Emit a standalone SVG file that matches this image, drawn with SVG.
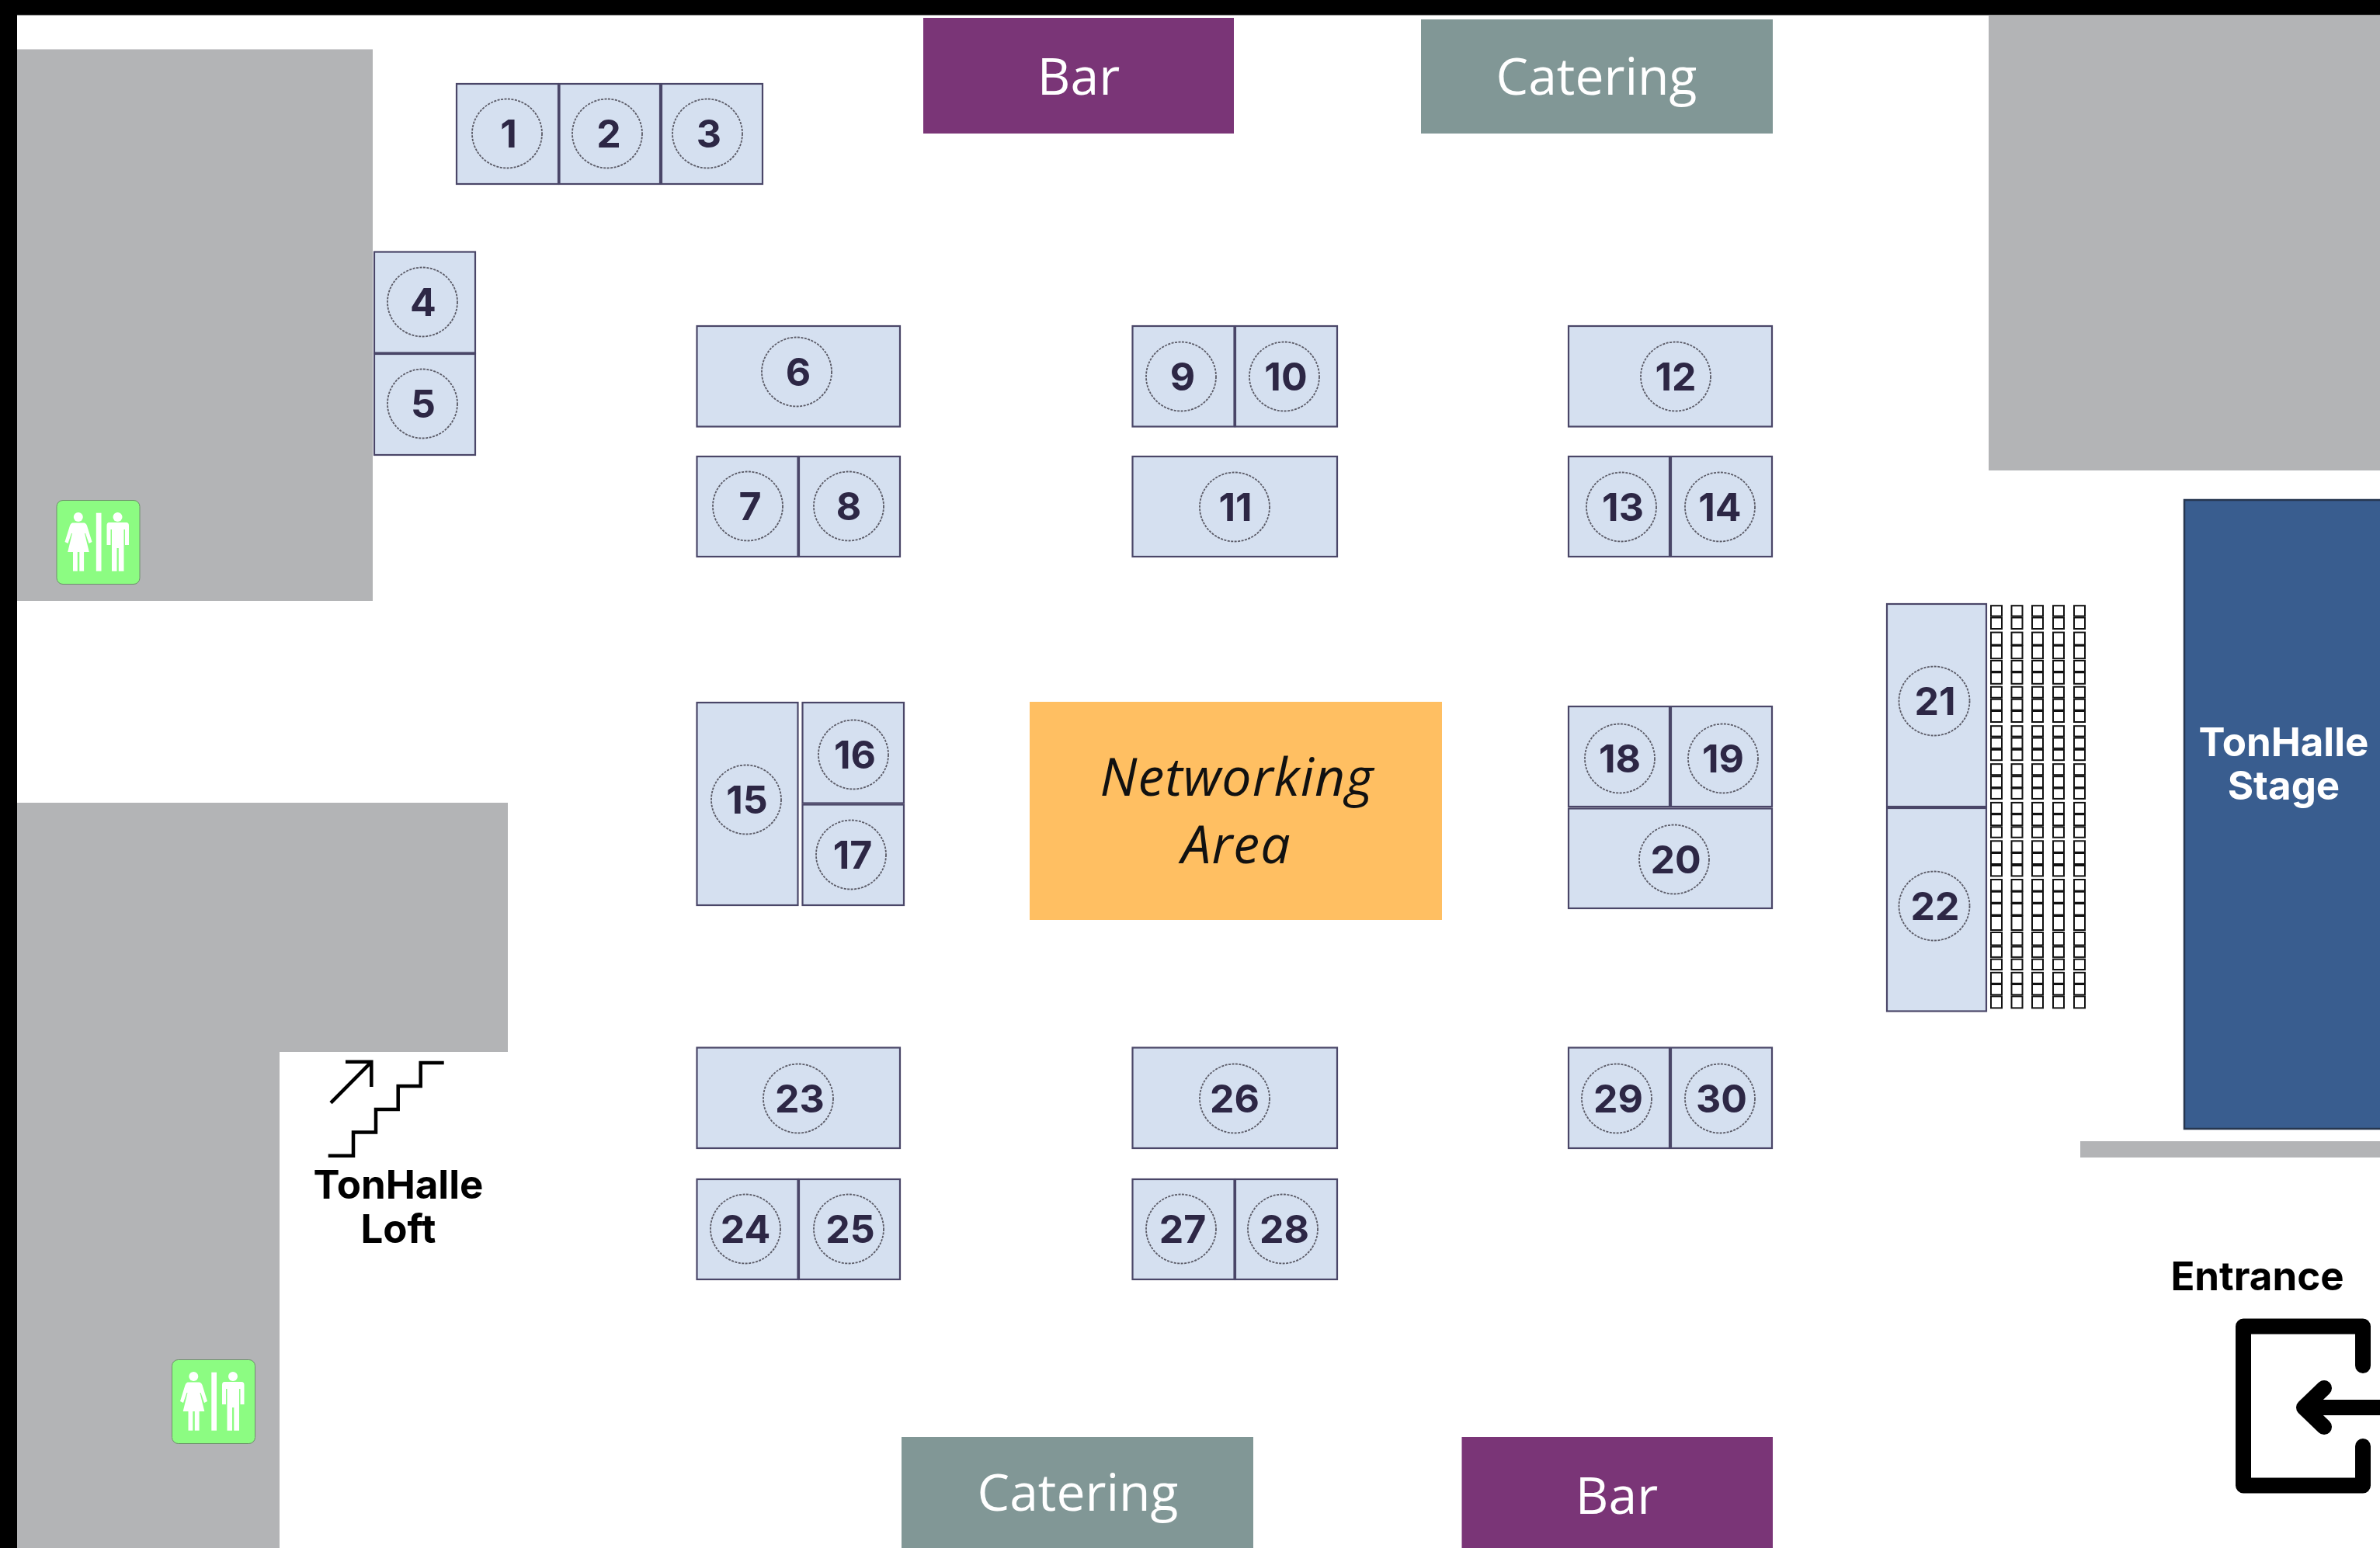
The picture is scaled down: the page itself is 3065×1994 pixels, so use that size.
<svg xmlns="http://www.w3.org/2000/svg" xmlns:xlink="http://www.w3.org/1999/xlink" width="3065" height="1994" viewBox="0 0 3065 1994">
<style>
.w{fill:#b3b4b6}
.t{fill:#d5e0f0;stroke:#4a4668;stroke-width:2.2}
.c{fill:none;stroke:#5a5a66;stroke-width:1.8;stroke-dasharray:3 1.5}
.n{font-family:Inter,"Liberation Sans",sans-serif;font-weight:700;font-size:50px;fill:#2d2745;text-anchor:middle}
.l{font-family:"Open Sans","Liberation Sans",sans-serif;font-size:66px;fill:#fff;text-anchor:middle}
.b{font-family:Inter,"Liberation Sans",sans-serif;font-weight:700;font-size:51px;text-anchor:middle}
.ch{fill:#fff;stroke:#111;stroke-width:2}
.ln{fill:none;stroke:#000;stroke-linecap:butt}
</style>
<defs>
<g id="wc">
<rect x="0.5" y="0.5" width="107" height="108" rx="8" fill="#8cfc82" stroke="#6d8f6a" stroke-width="1"/>
<g fill="#fff">
<circle cx="28.3" cy="22" r="6"/>
<path d="M21,29.5H35.5Q38,29.5 39.5,33L46,54L42,56L37.5,43H36.5L42.3,67H14.7L20.5,43H19.5L15,56L11,54L17.5,33Q19,29.5 21,29.5Z"/>
<rect x="21.5" y="67" width="5.8" height="24.7"/><rect x="29.8" y="67" width="5.8" height="24.7"/>
<rect x="51.3" y="16.7" width="6.7" height="75"/>
<circle cx="79" cy="22" r="6"/>
<path d="M68,29H90Q93.5,29 93.5,33V58H88.5V38H87V91.7H80.3V62H78V91.7H71.5V38H70V58H65V33Q65,29 68,29Z"/>
</g>
</g>
<g id="col">
<rect class="ch" x="0" y="780.2" width="14" height="13.4"/><rect class="ch" x="0" y="795.5" width="14" height="14.5"/><rect class="ch" x="0" y="814.6" width="14" height="16"/><rect class="ch" x="0" y="831.8" width="14" height="16.5"/><rect class="ch" x="0" y="851" width="14" height="14"/><rect class="ch" x="0" y="866.3" width="14" height="14.5"/><rect class="ch" x="0" y="884.7" width="14" height="14"/><rect class="ch" x="0" y="900.7" width="14" height="14"/><rect class="ch" x="0" y="916" width="14" height="14"/><rect class="ch" x="0" y="935.2" width="14" height="13.4"/><rect class="ch" x="0" y="950.5" width="14" height="13.4"/><rect class="ch" x="0" y="965.8" width="14" height="13.4"/><rect class="ch" x="0" y="984.2" width="14" height="14"/><rect class="ch" x="0" y="1000.2" width="14" height="14"/><rect class="ch" x="0" y="1015.5" width="14" height="13.4"/><rect class="ch" x="0" y="1033.9" width="14" height="14"/><rect class="ch" x="0" y="1049.2" width="14" height="14"/><rect class="ch" x="0" y="1065.3" width="14" height="13.4"/><rect class="ch" x="0" y="1083.3" width="14" height="14.5"/><rect class="ch" x="0" y="1099" width="14" height="14"/><rect class="ch" x="0" y="1115" width="14" height="13.4"/><rect class="ch" x="0" y="1133" width="14" height="14.5"/><rect class="ch" x="0" y="1148.7" width="14" height="14"/><rect class="ch" x="0" y="1164" width="14" height="14.5"/><rect class="ch" x="0" y="1180" width="14" height="18"/><rect class="ch" x="0" y="1201" width="14" height="16.5"/><rect class="ch" x="0" y="1219.5" width="14" height="13.4"/><rect class="ch" x="0" y="1235.6" width="14" height="13.4"/><rect class="ch" x="0" y="1252.8" width="14" height="14"/><rect class="ch" x="0" y="1268" width="14" height="13.4"/><rect class="ch" x="0" y="1283.4" width="14" height="15"/>
</g>
</defs>
<rect width="3065" height="1994" fill="#fff"/>
<rect id="frame-top" x="0" y="0" width="3065" height="19.5" fill="#000"/>
<rect id="frame-left" x="0" y="0" width="22" height="1994" fill="#000"/>
<g id="walls">
<rect class="w" x="22" y="63.5" width="458" height="710.5"/>
<path class="w" d="M22,1034H654V1355H360V1994H22Z"/>
<rect class="w" x="2561" y="19.5" width="504" height="586.5"/>
<rect class="w" x="2679" y="1470" width="386" height="21"/>
</g>
<g id="stage"><rect x="2813" y="644" width="254" height="810" fill="#395d8f" stroke="#26364f" stroke-width="2.5"/>
<text class="b" fill="#fff" x="2941" y="974">TonHalle</text><text class="b" fill="#fff" x="2941" y="1030">Stage</text></g>
<g id="bar-top"><rect x="1189" y="23" width="400" height="149" fill="#7a3577"/><text class="l" x="1389" y="122">Bar</text></g>
<g id="catering-top"><rect x="1830" y="25" width="453" height="147" fill="#819796"/><text class="l" x="2056" y="122">Catering</text></g>
<g id="catering-bottom"><rect x="1161" y="1851" width="453" height="143" fill="#819796"/><text class="l" x="1388" y="1946">Catering</text></g>
<g id="bar-bottom"><rect x="1882.5" y="1851" width="400.5" height="143" fill="#7a3577"/><text class="l" x="2082" y="1950">Bar</text></g>
<g id="networking"><rect x="1326" y="904" width="531" height="281" fill="#ffbf62"/>
<text font-family="'Open Sans','Liberation Sans',sans-serif" font-style="italic" font-size="68" letter-spacing="1" fill="#111" text-anchor="middle" x="1593" y="1025">Networking</text>
<text font-family="'Open Sans','Liberation Sans',sans-serif" font-style="italic" font-size="68" letter-spacing="1" fill="#111" text-anchor="middle" x="1592" y="1112">Area</text></g>
<g id="wc-1"><use xlink:href="#wc" href="#wc" x="72.5" y="644"/></g>
<g id="wc-2"><use xlink:href="#wc" href="#wc" x="221" y="1751"/></g>
<g id="stairs">
<path class="ln" stroke-width="4.5" d="M422.7,1488.8H455V1458.5H484V1429H512.7V1399H541.7V1369H571.7"/>
<path class="ln" stroke-width="4.5" d="M426,1420.6L478.3,1367.8M445,1367.8H478.3V1400"/>
<text class="b" fill="#000" x="513" y="1544">TonHalle</text><text class="b" fill="#000" x="513" y="1601">Loft</text>
</g>
<g id="entrance">
<text class="b" fill="#000" x="2907" y="1662">Entrance</text>
<path fill="none" stroke="#000" stroke-width="20" stroke-linecap="round" stroke-linejoin="round" d="M3043,1759V1708.5H2889V1913.5H3043V1863"/>
<path fill="none" stroke="#000" stroke-width="20" stroke-linecap="round" stroke-linejoin="round" d="M2993,1788L2967,1813L2993,1838M2967,1813H3075"/>
</g>
<g id="chairs">
<use xlink:href="#col" href="#col" x="2564"/><use xlink:href="#col" href="#col" x="2590.5"/><use xlink:href="#col" href="#col" x="2617"/><use xlink:href="#col" href="#col" x="2644"/><use xlink:href="#col" href="#col" x="2671"/>
</g>
<g id="table-1"><rect class="t" x="588" y="108" width="131" height="129"/><ellipse class="c" cx="653" cy="172" rx="45" ry="44.5"/><text class="n" x="655" y="190">1</text></g>
<g id="table-2"><rect class="t" x="720.5" y="108" width="129.5" height="129"/><ellipse class="c" cx="782" cy="172" rx="45" ry="44.5"/><text class="n" x="784" y="190">2</text></g>
<g id="table-3"><rect class="t" x="852" y="108" width="130" height="129"/><ellipse class="c" cx="911" cy="172" rx="45" ry="44.5"/><text class="n" x="913" y="190">3</text></g>
<g id="table-4"><rect class="t" x="482" y="324.5" width="130" height="130"/><ellipse class="c" cx="544" cy="389" rx="45" ry="44.5"/><text class="n" x="545" y="407">4</text></g>
<g id="table-5"><rect class="t" x="482" y="456" width="130" height="130"/><ellipse class="c" cx="544" cy="520" rx="45" ry="44.5"/><text class="n" x="545" y="538">5</text></g>
<g id="table-6"><rect class="t" x="897.5" y="420" width="261.5" height="129.5"/><ellipse class="c" cx="1026" cy="479" rx="45" ry="44.5"/><text class="n" x="1028" y="497">6</text></g>
<g id="table-7"><rect class="t" x="897.5" y="588" width="130" height="129"/><ellipse class="c" cx="963" cy="652" rx="45" ry="44.5"/><text class="n" x="966" y="670">7</text></g>
<g id="table-8"><rect class="t" x="1029" y="588" width="130" height="129"/><ellipse class="c" cx="1093" cy="652" rx="45" ry="44.5"/><text class="n" x="1093" y="670">8</text></g>
<g id="table-9"><rect class="t" x="1458.5" y="420" width="131" height="129.5"/><ellipse class="c" cx="1521" cy="485" rx="45" ry="44.5"/><text class="n" x="1523" y="503">9</text></g>
<g id="table-10"><rect class="t" x="1591" y="420" width="131" height="129.5"/><ellipse class="c" cx="1654" cy="485" rx="45" ry="44.5"/><text class="n" x="1656" y="503">10</text></g>
<g id="table-11"><rect class="t" x="1458.5" y="588" width="263.5" height="129"/><ellipse class="c" cx="1590" cy="653" rx="45" ry="44.5"/><text class="n" x="1591" y="671">11</text></g>
<g id="table-12"><rect class="t" x="2020" y="420" width="262" height="129.5"/><ellipse class="c" cx="2158" cy="485" rx="45" ry="44.5"/><text class="n" x="2158" y="503">12</text></g>
<g id="table-13"><rect class="t" x="2020" y="588" width="130" height="129"/><ellipse class="c" cx="2088" cy="653" rx="45" ry="44.5"/><text class="n" x="2090" y="671">13</text></g>
<g id="table-14"><rect class="t" x="2152" y="588" width="130" height="129"/><ellipse class="c" cx="2215" cy="653" rx="45" ry="44.5"/><text class="n" x="2215" y="671">14</text></g>
<g id="table-15"><rect class="t" x="897.5" y="905" width="130" height="261"/><ellipse class="c" cx="961" cy="1030" rx="45" ry="44.5"/><text class="n" x="962" y="1048">15</text></g>
<g id="table-16"><rect class="t" x="1033.5" y="905" width="130.5" height="129.5"/><ellipse class="c" cx="1099" cy="972" rx="45" ry="44.5"/><text class="n" x="1101" y="990">16</text></g>
<g id="table-17"><rect class="t" x="1033.5" y="1036.5" width="130.5" height="129.5"/><ellipse class="c" cx="1096" cy="1101" rx="45" ry="44.5"/><text class="n" x="1098" y="1119">17</text></g>
<g id="table-18"><rect class="t" x="2020" y="910" width="130" height="129"/><ellipse class="c" cx="2086" cy="977" rx="45" ry="44.5"/><text class="n" x="2086" y="995">18</text></g>
<g id="table-19"><rect class="t" x="2152" y="910" width="130" height="129"/><ellipse class="c" cx="2219" cy="977" rx="45" ry="44.5"/><text class="n" x="2219" y="995">19</text></g>
<g id="table-20"><rect class="t" x="2020" y="1041.5" width="262" height="128.5"/><ellipse class="c" cx="2156" cy="1107" rx="45" ry="44.5"/><text class="n" x="2158" y="1125">20</text></g>
<g id="table-21"><rect class="t" x="2430" y="778" width="128" height="261"/><ellipse class="c" cx="2491" cy="903" rx="45.5" ry="44.5"/><text class="n" x="2492" y="921">21</text></g>
<g id="table-22"><rect class="t" x="2430" y="1041" width="128" height="261.5"/><ellipse class="c" cx="2491" cy="1167" rx="45.5" ry="44.5"/><text class="n" x="2492" y="1185">22</text></g>
<g id="table-23"><rect class="t" x="897.5" y="1349.5" width="261.5" height="129.5"/><ellipse class="c" cx="1028" cy="1415" rx="45" ry="44.5"/><text class="n" x="1030" y="1433">23</text></g>
<g id="table-24"><rect class="t" x="897.5" y="1519" width="130" height="129"/><ellipse class="c" cx="960" cy="1583" rx="45" ry="44.5"/><text class="n" x="960" y="1601">24</text></g>
<g id="table-25"><rect class="t" x="1029" y="1519" width="130" height="129"/><ellipse class="c" cx="1093" cy="1583" rx="45" ry="44.5"/><text class="n" x="1095" y="1601">25</text></g>
<g id="table-26"><rect class="t" x="1458.5" y="1349.5" width="263.5" height="129.5"/><ellipse class="c" cx="1590" cy="1415" rx="45" ry="44.5"/><text class="n" x="1590" y="1433">26</text></g>
<g id="table-27"><rect class="t" x="1458.5" y="1519" width="131" height="129"/><ellipse class="c" cx="1521" cy="1583" rx="45" ry="44.5"/><text class="n" x="1523" y="1601">27</text></g>
<g id="table-28"><rect class="t" x="1591" y="1519" width="131" height="129"/><ellipse class="c" cx="1652" cy="1583" rx="45" ry="44.5"/><text class="n" x="1654" y="1601">28</text></g>
<g id="table-29"><rect class="t" x="2020" y="1349.5" width="130" height="129.5"/><ellipse class="c" cx="2082" cy="1415" rx="45" ry="44.5"/><text class="n" x="2084" y="1433">29</text></g>
<g id="table-30"><rect class="t" x="2152" y="1349.5" width="130" height="129.5"/><ellipse class="c" cx="2215" cy="1415" rx="45" ry="44.5"/><text class="n" x="2217" y="1433">30</text></g>
<g id="connectors"/>
</svg>
